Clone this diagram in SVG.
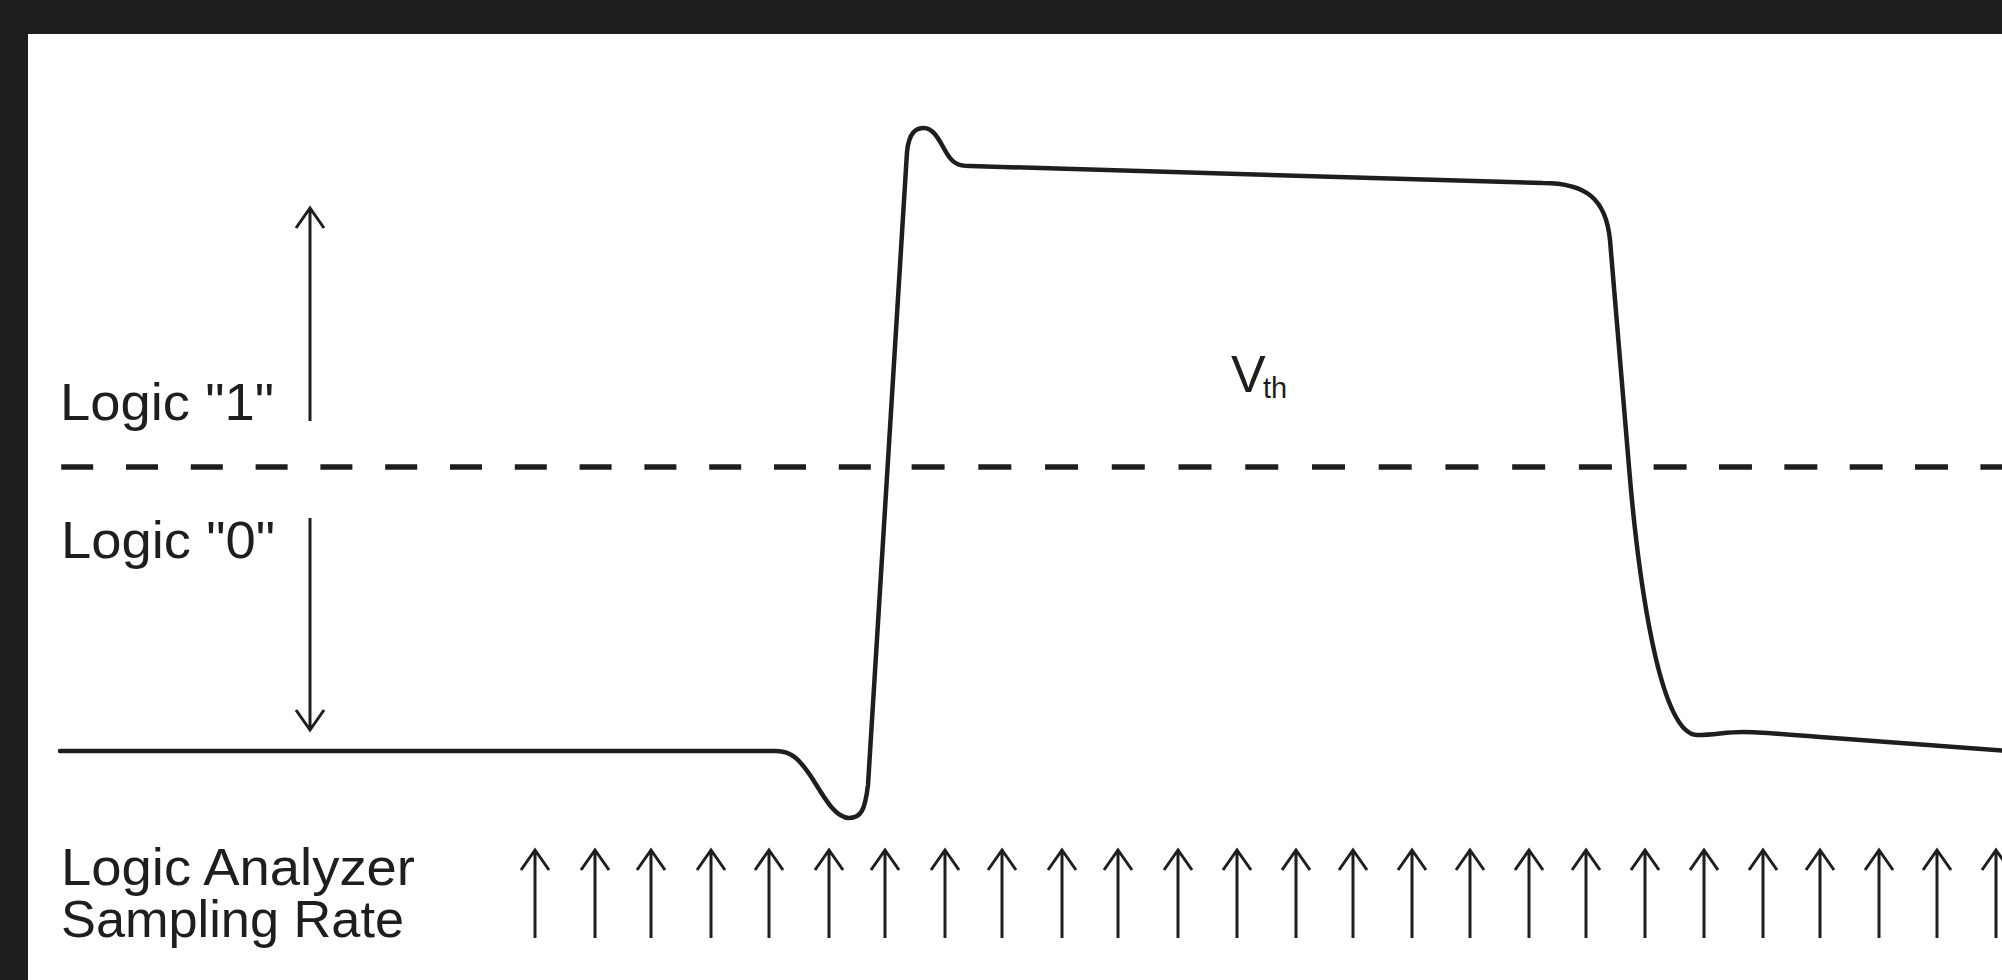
<svg xmlns="http://www.w3.org/2000/svg" xmlns:xlink="http://www.w3.org/1999/xlink" width="2002" height="980" viewBox="0 0 2002 980">
  <style>
    .ink { stroke: #1e1e1c; fill: none; }
    .wave { stroke-width: 4.5; stroke-linecap: round; stroke-linejoin: round; }
    .dash { stroke-width: 5.5; stroke-linecap: butt; }
    .arr { stroke-width: 3; stroke-linecap: butt; stroke-linejoin: miter; }
    .lbl { font-family: "Liberation Sans", Arial, sans-serif; fill: #1e1e1c; font-size: 52px; }
    .sub { font-family: "Liberation Sans", Arial, sans-serif; fill: #1e1e1c; font-size: 29px; }
  </style>
  <defs>
    <path id="upArrow" class="ink arr" d="M0 88 V1 M-14 20 L0 0 L14 20"/>
  </defs>

  <rect x="0" y="0" width="2002" height="980" fill="#ffffff"/>
  <g id="frame" fill="#1e1e1c">
    <rect x="0" y="0" width="2002" height="34"/>
    <rect x="0" y="0" width="28" height="980"/>
  </g>

  <g id="threshold">
    <line class="ink dash" x1="61.2" y1="467" x2="871.5" y2="467" stroke-dasharray="32 32.8"/>
    <line class="ink dash" x1="911.6" y1="467" x2="1612" y2="467" stroke-dasharray="33 33.73"/>
    <line class="ink dash" x1="1653.6" y1="467" x2="2002" y2="467" stroke-dasharray="33 32.36"/>
  </g>

  <g id="waveform">
    <path class="ink wave" d="M60 751 H776 C792 751 800 760 812 778 C824 797 835 818 849 818 C861 818 865 810 868 785 L907 152 C909 132 916 128 924 128 C934 128 940 142 946 152 C952 163 958 166 970 166 L1543 183 C1586 183 1606 199 1610 240 L1629 467 C1635 540 1655 735 1697 735 C1715 735 1725 732 1743 732 C1760 732 1790 734.5 1820 737 L2010 751"/>
  </g>

  <g id="logic1">
    <path class="ink arr" d="M310 421 V209 M296 228 L310 208 L324 228"/>
    <text class="lbl" x="60" y="420" textLength="214" lengthAdjust="spacingAndGlyphs">Logic "1"</text>
  </g>

  <g id="logic0">
    <path class="ink arr" d="M310 518 V729 M296 710 L310 730 L324 710"/>
    <text class="lbl" x="61" y="558" textLength="214" lengthAdjust="spacingAndGlyphs">Logic "0"</text>
  </g>

  <g id="vth">
    <text class="lbl" x="1231" y="392">V</text>
    <text class="sub" x="1263" y="398">th</text>
  </g>

  <g id="sampling">
    <text class="lbl" x="61" y="885" textLength="354" lengthAdjust="spacingAndGlyphs">Logic Analyzer</text>
    <text class="lbl" x="61" y="937" textLength="343" lengthAdjust="spacingAndGlyphs">Sampling Rate</text>
    <g id="sample-arrows">
      <use xlink:href="#upArrow" x="535" y="850"/>
      <use xlink:href="#upArrow" x="595" y="850"/>
      <use xlink:href="#upArrow" x="651" y="850"/>
      <use xlink:href="#upArrow" x="711" y="850"/>
      <use xlink:href="#upArrow" x="769" y="850"/>
      <use xlink:href="#upArrow" x="829" y="850"/>
      <use xlink:href="#upArrow" x="885" y="850"/>
      <use xlink:href="#upArrow" x="945" y="850"/>
      <use xlink:href="#upArrow" x="1002" y="850"/>
      <use xlink:href="#upArrow" x="1062" y="850"/>
      <use xlink:href="#upArrow" x="1118" y="850"/>
      <use xlink:href="#upArrow" x="1178" y="850"/>
      <use xlink:href="#upArrow" x="1237" y="850"/>
      <use xlink:href="#upArrow" x="1296" y="850"/>
      <use xlink:href="#upArrow" x="1353" y="850"/>
      <use xlink:href="#upArrow" x="1412" y="850"/>
      <use xlink:href="#upArrow" x="1470" y="850"/>
      <use xlink:href="#upArrow" x="1529" y="850"/>
      <use xlink:href="#upArrow" x="1586" y="850"/>
      <use xlink:href="#upArrow" x="1645" y="850"/>
      <use xlink:href="#upArrow" x="1704" y="850"/>
      <use xlink:href="#upArrow" x="1763" y="850"/>
      <use xlink:href="#upArrow" x="1820" y="850"/>
      <use xlink:href="#upArrow" x="1879" y="850"/>
      <use xlink:href="#upArrow" x="1937" y="850"/>
      <use xlink:href="#upArrow" x="1996" y="850"/>
    </g>
  </g>
</svg>
